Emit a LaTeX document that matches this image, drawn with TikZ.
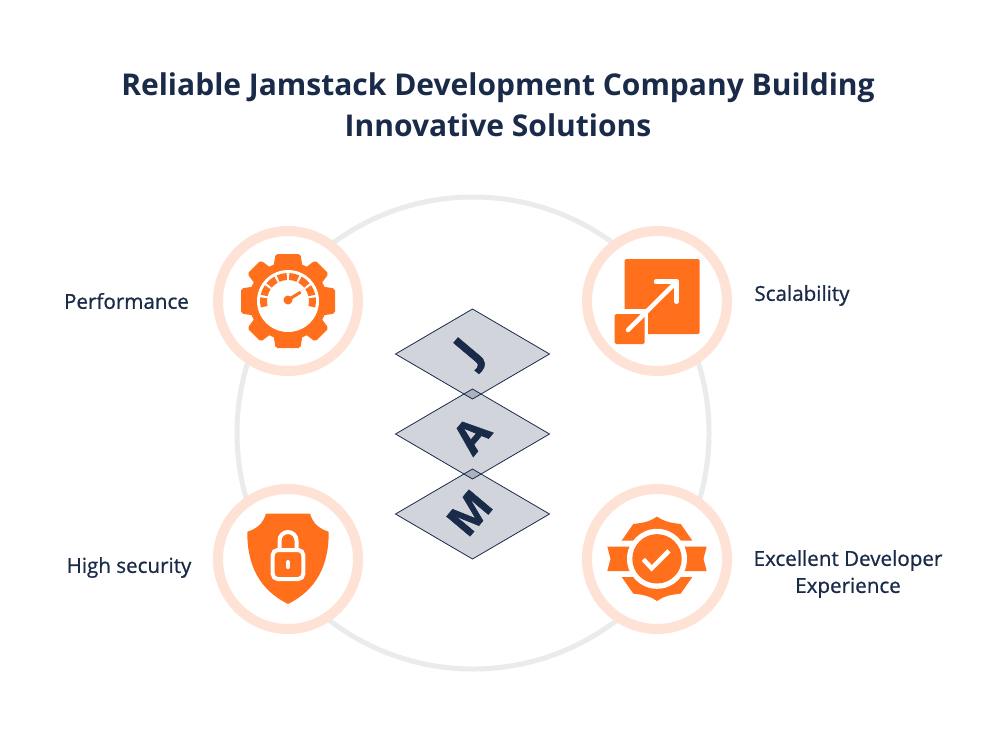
\documentclass[tikz,border=0pt]{standalone}
\usepackage{fontspec}
\setmainfont{Open Sans}
\newfontfamily\semifont[FakeBold=0.8]{Open Sans}
\usetikzlibrary{calc}
\definecolor{inkblue}{HTML}{1A2B49}
\definecolor{iconorange}{HTML}{FF6F1C}
\definecolor{ringpeach}{HTML}{FFE2D6}
\definecolor{bigring}{HTML}{EAEBED}
\tikzset{
    ring/.style={circle,draw=ringpeach,line width=10pt,fill=white,minimum size=140pt,inner sep=0pt,outer sep=0pt},
    itemlabel/.style={text=inkblue,align=center,font=\semifont\fontsize{20.6}{27}\selectfont},
    titlelabel/.style={text=inkblue,align=center,font=\bfseries\fontsize{30}{41}\selectfont},
    letterlabel/.style={text=inkblue,font=\bfseries\addfontfeature{FakeBold=1.2}\fontsize{43}{43}\selectfont,inner sep=0pt,rotate=50,xscale=1.06},
    whiteline/.style={draw=white,line width=4.5pt,line cap=round}
}
\begin{document}
\begin{tikzpicture}[x=1pt,y=-1pt]
    \useasboundingbox (0,0) rectangle (996,747);
    \fill[white] (0,0) rectangle (996,747);
    \node[titlelabel] (title) at (498,104.5) {Reliable Jamstack Development Company Building\\Innovative Solutions};
    \draw[bigring,line width=5pt] (473,433) circle (236);
    % rings
    \node[ring] (perfring) at (288,301) {};
    \node[ring] (scalering) at (657,301) {};
    \node[ring] (securering) at (288,559) {};
    \node[ring] (devring) at (657,559) {};
    % stacked diamonds
    \foreach \cy/\ly/\lx/\ch/\nm in {354/353/471/J/jay,434/435/471.5/A/ay,514/513/469.5/M/em}{%
        \draw[inkblue,fill=inkblue,fill opacity=0.2,line width=0.8pt,line join=miter] (395.5,\cy) -- (472.5,\cy-45) -- (549.5,\cy) -- (472.5,\cy+45) -- cycle;%
        \node[letterlabel] (\nm) at (\lx,\ly) {\ch};%
    }
    % gear
    \begin{scope}[shift={(288,301)}]
        \fill[iconorange] (0,0) circle (39);
        \foreach \a in {0,90,180,270}{%
            \fill[iconorange,rotate=\a,rounded corners=2pt] (-14.5,-34) -- (-12.5,-47) -- (12.5,-47) -- (14.5,-34) -- cycle;%
        }
        \foreach \a in {45,135,225,315}{%
            \fill[iconorange,rotate=\a,rounded corners=2pt] (-11.5,-34) -- (-9.5,-48) -- (9.5,-48) -- (11.5,-34) -- cycle;%
        }
        \fill[white] (0,0) circle (31);
        \foreach \n in {0,...,7}{%
            \pgfmathsetmacro{\a}{177+26.57*\n}%
            \fill[iconorange] (\a-10.5:21) -- (\a-10.5:28) arc (\a-10.5:\a+10.5:28) -- (\a+10.5:21) arc (\a+10.5:\a-10.5:21) -- cycle;%
        }
        \fill[iconorange] (0,-1) circle (4.5);
        \draw[iconorange,line width=3pt,line cap=round] (0,-1) -- (12,-8.5);
    \end{scope}
    % arrow square
    \fill[iconorange,rounded corners=1.5pt] (624.5,259) rectangle (699.5,334);
    \fill[white] (619,309) rectangle (648,349);
    \fill[iconorange,rounded corners=1.5pt] (614.5,314) rectangle (644.5,344);
    \draw[whiteline] (628,330) -- (676.7,281.7);
    \draw[whiteline,line join=round] (656,281.7) -- (676.7,281.7) -- (676.7,301.7);
    % shield
    \fill[iconorange] (266,513.7) -- (310,513.7) .. controls (313,524) and (320,529) .. (328.7,531.7) .. controls (329,566) and (316,590) .. (288,604) .. controls (260,590) and (247,566) .. (247.3,531.7) .. controls (256,529) and (263,524) .. cycle;
    \draw[white,line width=4pt,rounded corners=5pt] (272.7,550) rectangle (303.3,579);
    \draw[white,line width=4pt] (279.5,550) -- (279.5,540.5) arc (180:360:8.5) -- (296.5,550);
    \draw[whiteline,line width=4pt] (288,562) -- (288,567);
    % badge
    \begin{scope}[shift={(657,558.8)}]
        \foreach \s in {1,-1}{%
            \begin{scope}[yscale=\s]
                \fill[iconorange] (-35.3,-18.2) -- (-23.7,-34.8) .. controls (-18,-35.5) and (-14,-36) .. (-10.3,-37.2) .. controls (-6,-38.5) and (-3,-40) .. (0,-42.2) .. controls (3,-40) and (6,-38.5) .. (10.3,-37.2) .. controls (14,-36) and (18,-35.5) .. (23.7,-34.8) -- (35.3,-18.2) -- cycle;
            \end{scope}%
        }
        \fill[iconorange] (-49.7,-12.3) -- (-20,-12.3) -- (-20,12.3) -- (-49.7,12.3) -- (-46.5,0) -- cycle;
        \fill[iconorange] (49.7,-12.3) -- (20,-12.3) -- (20,12.3) -- (49.7,12.3) -- (46.5,0) -- cycle;
        \fill[white] (0,0) circle (30);
        \fill[iconorange] (0,0) circle (24.7);
        \draw[white,line width=4.5pt,line join=miter] (-13.7,0.5) -- (-5.3,9.5) -- (12,-8);
    \end{scope}
    % labels
    \node[itemlabel] (perf) at (126.5,301) {Performance};
    \node[itemlabel] (scale) at (802,295.5) {Scalability};
    \node[itemlabel] (secure) at (129,567.5) {High security};
    \node[itemlabel] (dev) at (848,574) {Excellent Developer\\Experience};
\end{tikzpicture}
\end{document}
